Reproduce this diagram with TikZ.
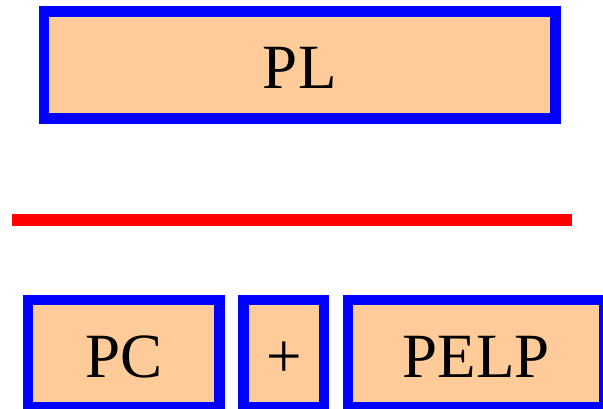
\documentclass[tikz,border=0pt]{standalone}
\usepackage{fontspec}
\setmainfont{Liberation Serif}
\definecolor{peach}{HTML}{FFCC99}
\begin{document}
\begin{tikzpicture}[x=1pt,y=-1pt,
  box/.style={draw=blue,fill=peach,line width=10.7pt,inner sep=0pt,
    text height=47pt,text depth=0pt,
    font=\fontsize{63}{70}\selectfont}]
\useasboundingbox (0,0) rectangle (603,408);
\node[box,minimum width=511.5pt,minimum height=106.9pt] (pl) at (299.75,65.25) {PL};
\coordinate (la) at (12,220);
\coordinate (lb) at (572,220);
\draw[red,line width=12pt] (la) -- (lb);
\node[box,minimum width=191.8pt,minimum height=107pt] (pc) at (123.9,353.5) {PC};
\node[box,minimum width=80.3pt,minimum height=107pt] (plus) at (283.95,353.5) {+};
\node[box,minimum width=256.3pt,minimum height=107pt] (pelp) at (476.15,353.5) {PELP};
\end{tikzpicture}
\end{document}
